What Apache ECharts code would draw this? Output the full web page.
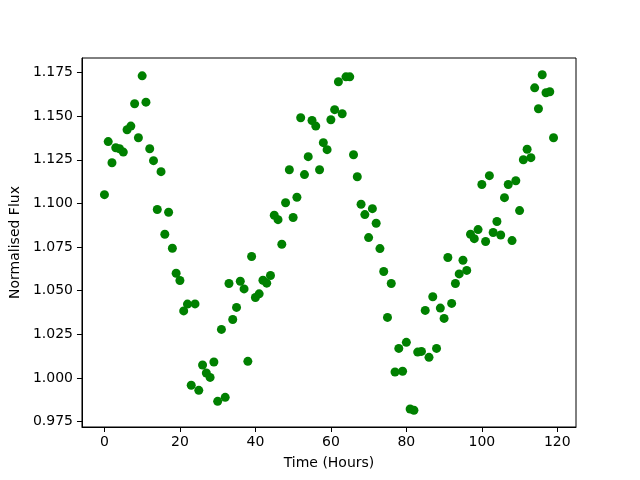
<!DOCTYPE html>
<html>
<head>
<meta charset="utf-8">
<script src="https://cdn.jsdelivr.net/npm/echarts@6/dist/echarts.min.js"></script>
<style>
  html, body { margin: 0; padding: 0; background: #fff; }
  #chart { width: 640px; height: 480px; }
</style>
</head>
<body>
<div id="chart"></div>
<script>
// time in hours (one reading per hour)
var hours = [];
for (var h = 0; h < 120; h++) hours.push(h);

// normalised flux
var flux = [
  1.105, 1.1354, 1.1233, 1.1319, 1.1313, 1.1294, 1.1422, 1.1443, 1.1571, 1.1376,
  1.1731, 1.158, 1.1313, 1.1245, 1.0965, 1.1182, 1.0823, 1.0949, 1.0743, 1.060,
  1.0558, 1.0384, 1.0423, 0.9958, 1.0424, 0.9929, 1.0074, 1.0028, 1.0003, 1.0091,
  0.9866, 1.0278, 0.9889, 1.0541, 1.0335, 1.0404, 1.0554, 1.051, 1.0095, 1.0696,
  1.0461, 1.0482, 1.056, 1.0543, 1.0587, 1.0932, 1.0907, 1.0766, 1.1004, 1.1193,
  1.0919, 1.1035, 1.1491, 1.1165, 1.1268, 1.1475, 1.1443, 1.1193, 1.1348, 1.1308,
  1.1479, 1.1537, 1.1697, 1.1514, 1.1725, 1.1725, 1.1279, 1.1153, 1.0995, 1.0936,
  1.0804, 1.097, 1.0886, 1.0741, 1.061, 1.0347, 1.0541, 1.0034, 1.0169, 1.0038,
  1.0204, 0.9822, 0.9815, 1.0148, 1.0152, 1.0387, 1.0118, 1.0465, 1.0169, 1.04,
  1.0341, 1.069, 1.0427, 1.0541, 1.0596, 1.0674, 1.0616, 1.0823, 1.0798, 1.085,
  1.1108, 1.0782, 1.1159, 1.0833, 1.0896, 1.0819, 1.1033, 1.1108, 1.0787, 1.113,
  1.0959, 1.125, 1.131, 1.1262, 1.1662, 1.1542, 1.1737, 1.1634, 1.164, 1.1376
];

var xTicks = [0, 20, 40, 60, 80, 100, 120];
var yTicks = [0.975, 1.000, 1.025, 1.050, 1.075, 1.100, 1.125, 1.150, 1.175];

var points = [];
for (var i = 0; i < hours.length; i++) {
  points.push([hours[i], flux[i]]);
}

// matplotlib style 5% margins around the data
var xMin = Math.min.apply(null, hours), xMax = Math.max.apply(null, hours);
var yMin = Math.min.apply(null, flux), yMax = Math.max.apply(null, flux);
var xPad = (xMax - xMin) * 0.05, yPad = (yMax - yMin) * 0.05;

var font = 'DejaVu Sans';
var chart = echarts.init(document.getElementById('chart'), null, { renderer: 'canvas' });
chart.setOption({
  animation: false,
  backgroundColor: '#fff',
  textStyle: { fontFamily: font },
  grid: {
    left: 80, right: 64, top: 58, bottom: 53,
    show: true, borderColor: '#000', borderWidth: 1, backgroundColor: 'transparent'
  },
  xAxis: {
    type: 'value',
    min: xMin - xPad,
    max: xMax + xPad,
    name: 'Time (Hours)',
    nameLocation: 'middle',
    nameGap: 29,
    nameTextStyle: { color: '#000', fontSize: 14, fontFamily: font },
    axisLine: { show: true, onZero: false, lineStyle: { color: '#000', width: 1 } },
    axisTick: { show: true, inside: false, length: 5, lineStyle: { color: '#000' }, customValues: xTicks },
    axisLabel: { color: '#000', fontSize: 14, fontFamily: font, margin: 8, customValues: xTicks },
    splitLine: { show: false }
  },
  yAxis: {
    type: 'value',
    min: yMin - yPad,
    max: yMax + yPad,
    name: 'Normalised Flux',
    nameLocation: 'middle',
    nameGap: 53,
    nameTextStyle: { color: '#000', fontSize: 14, fontFamily: font },
    axisLine: { show: true, onZero: false, lineStyle: { color: '#000', width: 1 } },
    axisTick: { show: true, inside: false, length: 5, lineStyle: { color: '#000' }, customValues: yTicks },
    axisLabel: {
      color: '#000', fontSize: 14, fontFamily: font, margin: 9, customValues: yTicks,
      formatter: function (v) { return v.toFixed(3); }
    },
    splitLine: { show: false }
  },
  series: [{
    type: 'scatter',
    data: points,
    symbol: 'circle',
    symbolSize: 9,
    itemStyle: { color: '#008000', opacity: 1 }
  }]
});
</script>
</body>
</html>
